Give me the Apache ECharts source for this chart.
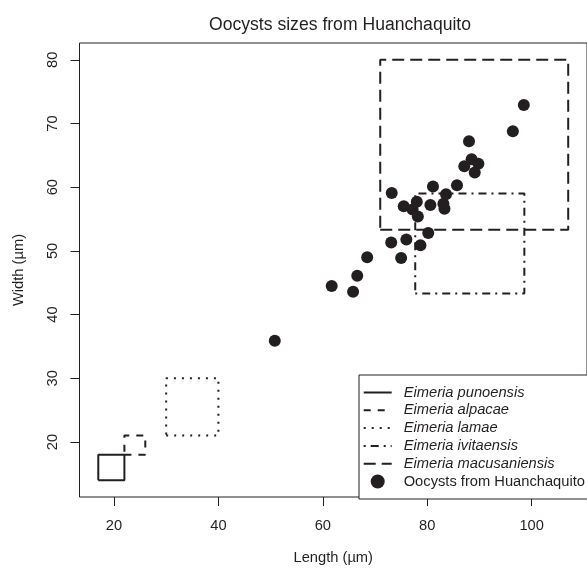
<!DOCTYPE html>
<html>
<head>
<meta charset="utf-8">
<script src="https://cdn.jsdelivr.net/npm/echarts@6/dist/echarts.min.js"></script>
<style>
html,body{margin:0;padding:0;background:#fff;}
#c{width:587px;height:570px;}
</style>
</head>
<body>
<div id="c"></div>
<script>
// Species reference ranges (µm)
const speciesNames = ['Eimeria punoensis','Eimeria alpacae','Eimeria lamae','Eimeria ivitaensis','Eimeria macusaniensis'];
const lengthMin = [17, 22, 30, 77.7, 71];
const lengthMax = [22, 26, 40, 98.6, 107];
const widthMin  = [14, 18, 21, 43.3, 53.3];
const widthMax  = [18, 21, 30, 59, 80];

// Oocysts measured from Huanchaquito
const pointsName = 'Oocysts from Huanchaquito';
const oocystLength = [98.5, 96.4, 88.0, 88.5, 89.8, 87.1, 89.1, 85.7, 81.1, 73.2, 83.6, 78.0, 83.1, 75.5, 80.6, 83.3, 77.2, 78.2, 80.2, 76.0, 73.1, 78.7, 75.0, 68.5, 66.6, 61.7, 65.8, 50.8];
const oocystWidth  = [72.9, 68.8, 67.2, 64.4, 63.7, 63.3, 62.3, 60.3, 60.1, 59.1, 58.9, 57.7, 57.4, 57.0, 57.2, 56.6, 56.5, 55.4, 52.8, 51.8, 51.3, 50.9, 48.9, 49.0, 46.1, 44.5, 43.6, 35.9];

const xTicks = [20, 40, 60, 80, 100];
const yTicks = [20, 30, 40, 50, 60, 70, 80];

const dashTypes = ['solid', [7, 7], [2, 6], [2, 5, 8, 5], [12, 6]];
const ink = '#231f20';
const font = '"Liberation Sans", Arial, Helvetica, sans-serif';

const series = speciesNames.map((name, i) => ({
  name: name,
  type: 'line',
  symbol: 'none',
  silent: true,
  lineStyle: { color: ink, width: 2, type: dashTypes[i] },
  itemStyle: { color: ink },
  data: [
    [lengthMin[i], widthMin[i]],
    [lengthMax[i], widthMin[i]],
    [lengthMax[i], widthMax[i]],
    [lengthMin[i], widthMax[i]],
    [lengthMin[i], widthMin[i]]
  ]
}));
series.push({
  name: pointsName,
  type: 'scatter',
  symbol: 'circle',
  symbolSize: 12,
  itemStyle: { color: ink, opacity: 1 },
  data: oocystLength.map((x, i) => [x, oocystWidth[i]])
});

const legendData = speciesNames.map(n => ({ name: n, itemStyle: { opacity: 0 } }))
  .concat([{ name: pointsName, icon: 'circle', itemStyle: { color: ink, opacity: 1 } }]);

const chart = echarts.init(document.getElementById('c'));
chart.setOption({
  animation: false,
  backgroundColor: '#fff',
  textStyle: { fontFamily: font, color: ink },
  title: {
    text: 'Oocysts sizes from Huanchaquito',
    left: 335, top: 11, textAlign: 'center',
    textStyle: { fontFamily: font, fontWeight: 'normal', fontSize: 17.6, color: ink }
  },
  grid: {
    left: 79.5, top: 43, right: -1.2, bottom: 71,
    show: true, borderColor: ink, borderWidth: 1, backgroundColor: 'transparent'
  },
  xAxis: {
    type: 'value', min: 13.4, max: 110.6,
    name: 'Length (µm)', nameLocation: 'middle', nameGap: 53,
    nameTextStyle: { fontFamily: font, fontSize: 14.7, color: ink },
    axisLine: { show: false },
    splitLine: { show: false },
    axisTick: { show: true, inside: false, length: 9, lineStyle: { color: ink }, customValues: xTicks },
    axisLabel: { fontFamily: font, fontSize: 14.7, color: ink, margin: 21, customValues: xTicks }
  },
  yAxis: {
    type: 'value', min: 11.36, max: 82.64,
    name: 'Width (µm)', nameLocation: 'middle', nameGap: 53,
    nameTextStyle: { fontFamily: font, fontSize: 14.7, color: ink },
    axisLine: { show: false },
    splitLine: { show: false },
    axisTick: { show: true, inside: false, length: 9, lineStyle: { color: ink }, customValues: yTicks },
    axisLabel: { fontFamily: font, fontSize: 14.7, color: ink, margin: 19, rotate: 90, customValues: yTicks }
  },
  legend: {
    orient: 'vertical',
    left: 359, top: 375,
    padding: [8.6, 30, 8.6, 3.7],
    itemWidth: 28, itemHeight: 14, itemGap: 0,
    borderColor: ink, borderWidth: 1, borderRadius: 0,
    backgroundColor: '#fff',
    selectedMode: false,
    data: legendData,
    formatter: n => n.indexOf('Eimeria') === 0 ? '{i|' + n + '}' : '{n|' + n + '}',
    textStyle: {
      fontFamily: font, fontSize: 14.7, color: ink, padding: [0, 0, 0, 7], lineHeight: 17.8,
      rich: {
        i: { fontStyle: 'italic', fontFamily: font, fontSize: 14.7, color: ink, lineHeight: 17.8 },
        n: { fontFamily: font, fontSize: 14.7, color: ink, lineHeight: 17.8 }
      }
    }
  },
  series: series
});
</script>
</body>
</html>
